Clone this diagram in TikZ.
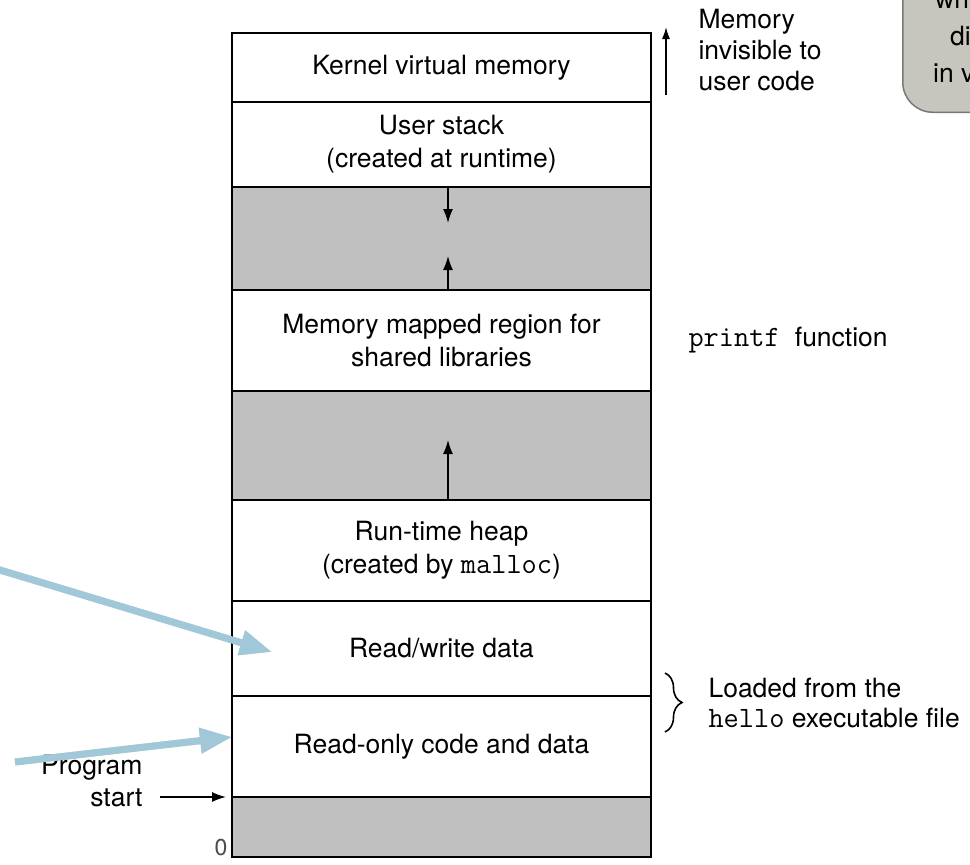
\documentclass[tikz,border=0pt]{standalone}
\usepackage{fontspec}
\setmainfont{TeX Gyre Heros}
\usetikzlibrary{positioning,arrows.meta,decorations.pathreplacing}
\definecolor{gapgray}{RGB}{192,192,192}
\definecolor{pointblue}{RGB}{160,200,216}
\definecolor{notegray}{RGB}{198,198,190}
\definecolor{noteedge}{RGB}{120,120,120}
\newcommand\code[1]{{\fontsize{29.5}{33}\selectfont\ttfamily #1}}

\begin{document}
\begin{tikzpicture}[
  x=1pt, y=-1pt,
  font=\fontsize{26.5}{33}\selectfont,
  area/.style={rectangle, draw, line width=2pt, fill=white, minimum width=419pt,
    inner sep=0pt, outer sep=0pt, align=center},
  freearea/.style={area, fill=gapgray},
  growth/.style={-{Latex[length=14pt, width=10pt]}, line width=1.5pt},
  pointer/.style={-{Triangle[length=32pt, width=24pt]}, line width=7pt, draw=pointblue, fill=pointblue},
  pointershadow/.style={pointer, draw=black, fill=black, opacity=0.18, shift={(1.5,2.5)}},
  callout/.style={rectangle, rounded corners=30pt, draw=noteedge, fill=notegray, line width=1.5pt}
]
  \useasboundingbox (0,0) rectangle (970,865);
  \clip (0,0) rectangle (970,865);

  % callout, cut at the edge
  \node[callout, anchor=south west, minimum width=220pt, minimum height=200pt] (note) at (902,113) {};
  \node[anchor=base west, inner sep=0pt] (notea) at (935,8) {wri};
  \node[anchor=base west, inner sep=0pt] (noteb) at (950,45) {di};
  \node[anchor=base west, inner sep=0pt] (notec) at (933,82) {in v};

  % the address space
  \node[area, minimum height=69pt] (kernel) at (441.5,67.5) {Kernel virtual memory};
  \node[area, minimum height=85pt, below=0pt of kernel] (ustack) {User stack\\(created at runtime)};
  \node[freearea, minimum height=103pt, below=0pt of ustack] (gapa) {};
  \node[area, minimum height=101pt, below=0pt of gapa] (mmap) {Memory mapped region for\\shared libraries};
  \node[freearea, minimum height=109pt, below=0pt of mmap] (gapb) {};
  \node[area, minimum height=101pt, below=0pt of gapb] (heap) {Run-time heap\\(created by \code{malloc})};
  \node[area, minimum height=95pt, below=0pt of heap] (rwdata) {Read/write data};
  \node[area, minimum height=101pt, below=0pt of rwdata] (rocode) {Read-only code and data};
  \node[freearea, minimum height=60pt, below=0pt of rocode] (gapc) {};

  \draw[growth] ([xshift=6.5pt]gapa.north) -- ++(0,36);
  \draw[growth] ([xshift=6.5pt]gapa.south) -- ++(0,-34);
  \draw[growth] ([xshift=6.5pt]gapb.south) -- ++(0,-60);

  % labels on the right
  \node[anchor=west, align=left, font=\fontsize{26.5}{31}\selectfont] (invis) at (695,50) {Memory\\invisible to\\user code};
  \coordinate (invbot) at (666,95);
  \coordinate (invtop) at (666,27);
  \draw[growth, -{Latex[length=12pt, width=8pt]}] (invbot) -- (invtop);

  \node[anchor=west] (printf) at (685,340) {\code{printf }function};

  \coordinate (bracetop) at (665,673);
  \coordinate (bracebot) at (665,732);
  \draw[decorate, decoration={brace, amplitude=17pt}, line width=1.6pt] (bracetop) -- (bracebot);
  \node[anchor=west, align=left, font=\fontsize{26.5}{30}\selectfont] (loaded) at (705,703) {Loaded from the\\\code{hello} executable file};

  % labels on the left
  \node[anchor=east, align=right, font=\fontsize{26.5}{32}\selectfont] (progstart) at (146,781) {Program\\start};
  \coordinate (pstart) at (160,797);
  \draw[growth] (pstart) -- ([xshift=-6pt]rocode.south west);
  \node[font=\fontsize{23}{25}\selectfont, text=black!70] (zero) at (221,848) {0};

  % blue pointers
  \coordinate (rwfrom) at (-10,567);
  \coordinate (rwtip) at (272,652);
  \coordinate (rofrom) at (15,762);
  \coordinate (rotip) at (232,737);
  \draw[pointershadow] (rwfrom) -- (rwtip);
  \draw[pointershadow] (rofrom) -- (rotip);
  \draw[pointer] (rwfrom) -- (rwtip);
  \draw[pointer] (rofrom) -- (rotip);
\end{tikzpicture}
\end{document}
